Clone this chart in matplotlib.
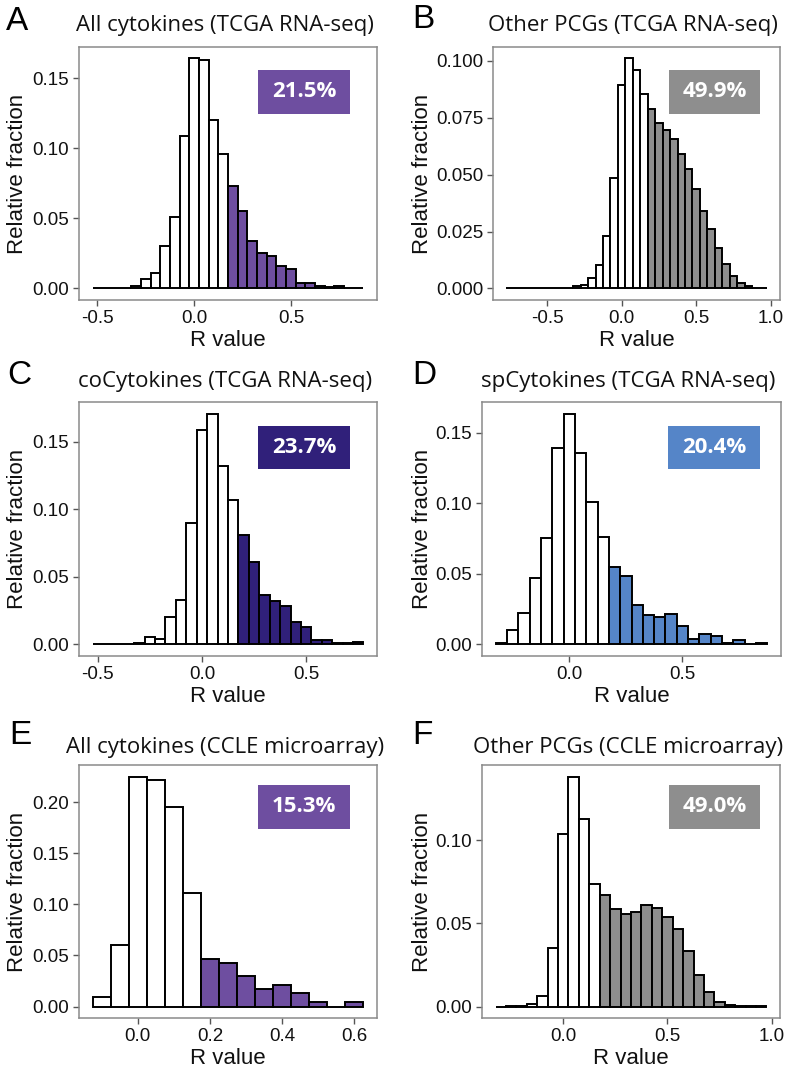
import matplotlib
matplotlib.use("Agg")
import matplotlib.pyplot as plt
from matplotlib.patches import Rectangle
import numpy as np

# bin width is 0.05 everywhere, first value is the centre of the first bin
BIN_W = 0.05

# A: all cytokines, TCGA RNA-seq
a_start = -0.50
a_frac = [0.0003, 0.0003, 0.0003, 0.0005, 0.002, 0.007, 0.011, 0.030, 0.051, 0.109,
          0.164, 0.163, 0.120, 0.096, 0.073, 0.055, 0.034, 0.025, 0.023, 0.016,
          0.014, 0.004, 0.004, 0.002, 0.001, 0.002, 0.0005, 0.0]

# B: other PCGs, TCGA RNA-seq
b_start = -0.75
b_frac = [0.0, 0.0, 0.0, 0.0, 0.0, 0.0001, 0.0001, 0.0002, 0.0003, 0.001,
          0.0017, 0.0047, 0.0102, 0.0231, 0.0486, 0.0895, 0.101, 0.0959, 0.0854, 0.0789,
          0.0728, 0.0694, 0.0658, 0.059, 0.0524, 0.0437, 0.0342, 0.026, 0.018, 0.0109,
          0.0057, 0.0025, 0.001, 0.0003, 0.0]

# C: coCytokines, TCGA RNA-seq
c_start = -0.50
c_frac = [0.0005, 0.0003, 0.0005, 0.0005, 0.001, 0.0052, 0.0037, 0.0202, 0.0327, 0.090,
          0.1586, 0.171, 0.132, 0.1072, 0.0807, 0.0607, 0.0366, 0.032, 0.0288, 0.0167,
          0.013, 0.003, 0.003, 0.001, 0.001, 0.0015]

# D: spCytokines, TCGA RNA-seq
d_start = -0.30
d_frac = [0.001, 0.0099, 0.0226, 0.0471, 0.0754, 0.139, 0.1637, 0.136, 0.1008, 0.0761,
          0.0551, 0.0483, 0.028, 0.0207, 0.0193, 0.0217, 0.013, 0.0042, 0.0073, 0.0059,
          0.0012, 0.0033, 0.0005, 0.001]

# E: all cytokines, CCLE microarray
e_start = -0.10
e_frac = [0.0091, 0.0598, 0.2254, 0.2215, 0.196, 0.1112, 0.0468, 0.0426, 0.0299, 0.0169,
          0.0215, 0.013, 0.0042, 0.0, 0.0042]

# F: other PCGs, CCLE microarray
f_start = -0.30
f_frac = [0.0, 0.0002, 0.0005, 0.0015, 0.0066, 0.0355, 0.104, 0.1385, 0.113, 0.074,
          0.0669, 0.0585, 0.0557, 0.0571, 0.0613, 0.0595, 0.0539, 0.0467, 0.0337, 0.019,
          0.0088, 0.003, 0.001, 0.0003, 0.0002, 0.0001]

titles = ["All cytokines (TCGA RNA-seq)", "Other PCGs (TCGA RNA-seq)",
          "coCytokines (TCGA RNA-seq)", "spCytokines (TCGA RNA-seq)",
          "All cytokines (CCLE microarray)", "Other PCGs (CCLE microarray)"]
letters = ["A", "B", "C", "D", "E", "F"]
percents = ["21.5%", "49.9%", "23.7%", "20.4%", "15.3%", "49.0%"]
colors = ["#6e4ea0", "#8e8e8e", "#30207a", "#5585c8", "#6e4ea0", "#8e8e8e"]
starts = [a_start, b_start, c_start, d_start, e_start, f_start]
fracs = [a_frac, b_frac, c_frac, d_frac, e_frac, f_frac]
xticks = [[-0.5, 0.0, 0.5], [-0.5, 0.0, 0.5, 1.0], [-0.5, 0.0, 0.5],
          [0.0, 0.5], [0.0, 0.2, 0.4, 0.6], [0.0, 0.5, 1.0]]
yticks = [[0, 0.05, 0.10, 0.15], [0, 0.025, 0.05, 0.075, 0.10], [0, 0.05, 0.10, 0.15],
          [0, 0.05, 0.10, 0.15], [0, 0.05, 0.10, 0.15, 0.20], [0, 0.05, 0.10]]
ydec = [2, 3, 2, 2, 2, 2]
xdec = [1, 1, 1, 1, 1, 1]
THRESH = 0.175

W, H = 800, 1073
# axes boxes in pixels: left, top, right, bottom
boxes = [(79, 47, 377, 300), (493, 47, 780, 300),
         (79, 402, 377, 656), (482, 402, 781, 656),
         (79, 765, 377, 1018), (482, 765, 780, 1018)]
# percent label boxes in pixels
pboxes = [(258, 70, 350, 114), (669, 70, 760, 114),
          (258, 426, 350, 469), (668, 426, 760, 469),
          (258, 785, 350, 829), (669, 785, 760, 829)]
title_y = [25, 25, 382, 382, 747, 747]
letter_xy = [(6, 21), (412, 19), (7, 375), (412, 375), (9, 736), (412, 736)]
ylab_x = [18, 422, 18, 422, 18, 422]

TICK_FONT = "Liberation Sans"
TITLE_FONT = "Open Sans"

fig = plt.figure(figsize=(W / 100, H / 100), dpi=100)

for i in range(6):
    l, t, r, b = boxes[i]
    ax = fig.add_axes([l / W, 1 - b / H, (r - l) / W, (b - t) / H])
    vals = np.array(fracs[i])
    centers = starts[i] + BIN_W * np.arange(len(vals))
    fill = [colors[i] if c > THRESH else "white" for c in centers]
    ax.bar(centers, vals, width=BIN_W, color=fill, edgecolor="black", linewidth=1.4)

    lo = centers[0] - BIN_W / 2
    hi = centers[-1] + BIN_W / 2
    span = hi - lo
    ax.set_xlim(lo - 0.05 * span, hi + 0.05 * span)
    ymax = vals.max()
    ax.set_ylim(-0.05 * ymax, 1.05 * ymax)

    ax.set_xticks(xticks[i])
    ax.set_xticklabels([f"{v:.{xdec[i]}f}" for v in xticks[i]])
    ax.set_yticks(yticks[i])
    ax.set_yticklabels([f"{v:.{ydec[i]}f}" for v in yticks[i]])
    ax.tick_params(direction="out", length=4, width=1, color="#555555",
                   labelsize=13.5, labelcolor="#111111", pad=3)
    for lab in ax.get_xticklabels() + ax.get_yticklabels():
        lab.set_family(TICK_FONT)
    for sp in ax.spines.values():
        sp.set_color("#8a8a8a")
        sp.set_linewidth(1.1)

    ax.set_xlabel("R value", fontsize=16, family=TICK_FONT, color="#111111")
    ax.xaxis.set_label_coords(0.5, -0.12)
    ax.set_ylabel("Relative fraction", fontsize=16, family=TICK_FONT, color="#111111",
                  va="center")
    ax.yaxis.set_label_coords((ylab_x[i] - l) / (r - l), 0.5)

    # percent box
    pl, pt, pr, pb = pboxes[i]
    x0 = (pl - l) / (r - l)
    y0 = (b - pb) / (b - t)
    bw = (pr - pl) / (r - l)
    bh = (pb - pt) / (b - t)
    ax.add_patch(Rectangle((x0, y0), bw, bh, transform=ax.transAxes,
                           facecolor=colors[i], edgecolor="none", zorder=5))
    ax.text(x0 + bw / 2, y0 + bh / 2, percents[i], transform=ax.transAxes,
            ha="center", va="center", color="white", fontsize=16,
            fontweight="bold", family=TITLE_FONT, zorder=6)

    fig.text((l + r) / 2 / W - 0.004, 1 - title_y[i] / H, titles[i], ha="center",
             va="center", fontsize=16, family=TITLE_FONT, color="#111111")
    lx, ly = letter_xy[i]
    fig.text(lx / W, 1 - ly / H, letters[i], ha="left", va="center",
             fontsize=24, family=TICK_FONT, color="black")

fig.savefig("out.png", dpi=100)
